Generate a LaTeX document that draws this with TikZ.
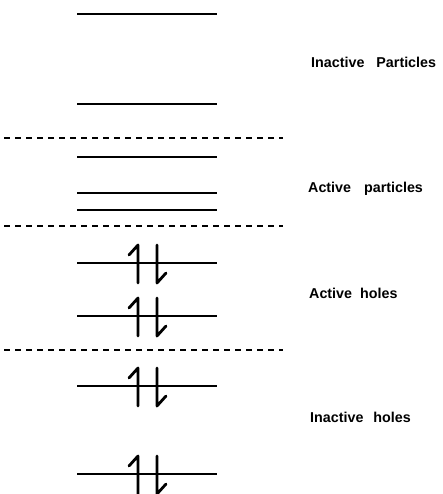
\documentclass[tikz,border=0pt]{standalone}
\usepackage{fontspec}
\setmainfont{Liberation Sans}
\begin{document}
\begin{tikzpicture}[x=1pt,y=-1pt,
  level/.style={line width=1.8pt},
  sep/.style={line width=1.8pt, dash pattern=on 6pt off 5pt},
  spin/.style={line width=2.8pt, line cap=round, line join=round},
  lbl/.style={anchor=base west, inner sep=0pt, font=\fontsize{14.3}{16}\selectfont\bfseries},
  pics/pair/.style={code={
    \draw[spin] (-17,-8) -- (-8,-18) -- (-8,20);
    \draw[spin] (11,-18) -- (11,20) -- (20,10);
  }}]
\useasboundingbox (0,0) rectangle (443,494);
% levels
\foreach \y in {14,104,157,193,210,263,316,386,474}
  \draw[level] (77,\y) -- (217,\y);
% separators
\foreach \y in {138,226,350}
  \draw[sep] (4,\y) -- (283,\y);
% electron pairs
\foreach \y/\n in {263/a,316/b,386/c,474/d}
  \pic (p\n) at (146,\y) {pair};
% labels
\node[lbl] (l1) at (311,68) {Inactive\hspace{12pt}Particles};
\node[lbl] (l2) at (308,193) {Active\hspace{13pt}particles};
\node[lbl] (l3) at (309,298) {Active\hspace{8pt}holes};
\node[lbl] (l4) at (310,422) {Inactive\hspace{10pt}holes};
\end{tikzpicture}
\end{document}
